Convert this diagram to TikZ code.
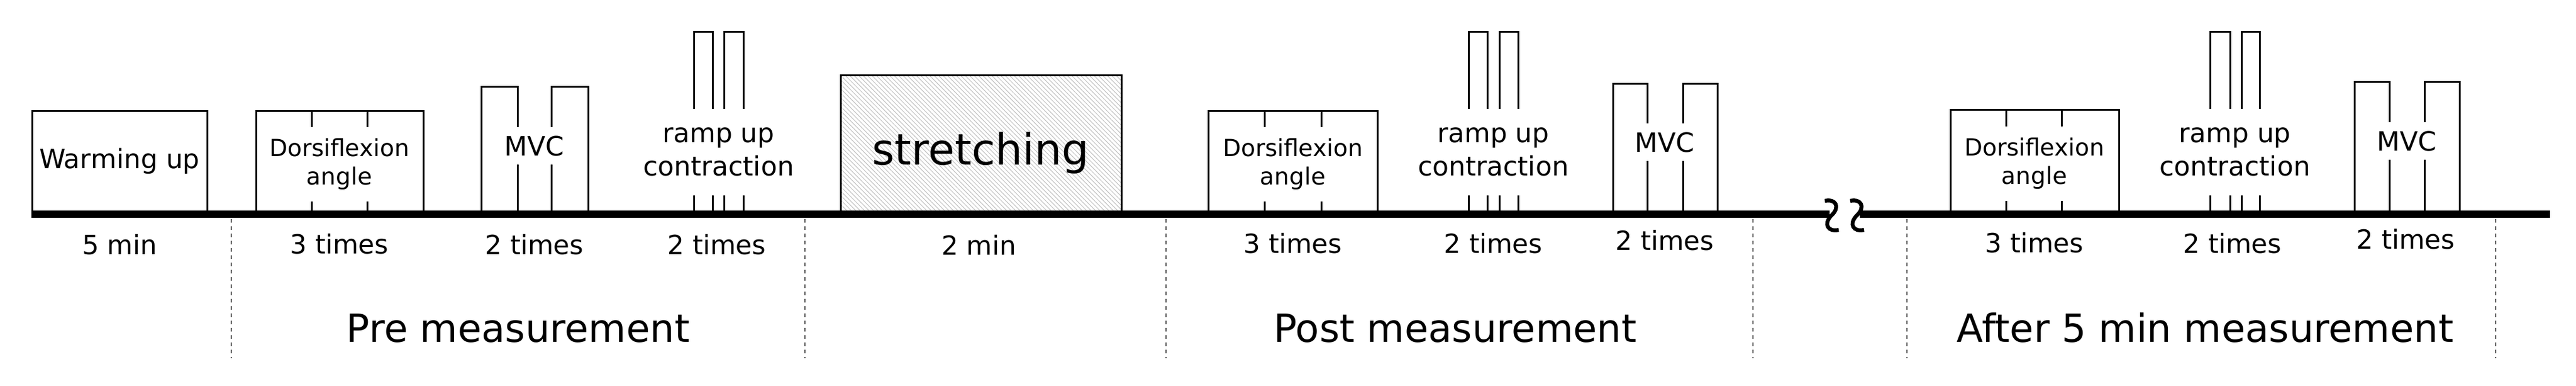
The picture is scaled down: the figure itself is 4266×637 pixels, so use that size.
\documentclass[tikz,border=0pt]{standalone}
\usepackage{fontspec}
\setmainfont{DejaVu Sans}
\usetikzlibrary{patterns.meta}
\begin{document}
    \begin{tikzpicture}[x=0.25pt,y=-0.25pt,
        box/.style={line width=0.75pt},
        axis/.style={line width=3pt},
        brk/.style={line width=1.6pt},
        sep/.style={black!65,line width=0.5pt,dash pattern=on 1.5pt off 1.5pt},
        cover/.style={fill=white,align=center,inner xsep=1pt,inner ysep=0pt},
        small/.style={font=\fontsize{11}{13.6}\selectfont},
        dors/.style={cover,font=\fontsize{9.75}{11.75}\selectfont,minimum height=30.75pt},
        mvc/.style={cover,small,minimum height=15.5pt},
        ramp/.style={cover,small,minimum height=35.75pt},
        count/.style={font=\fontsize{10.9}{13}\selectfont,anchor=base},
        phase/.style={font=\fontsize{16}{19}\selectfont,anchor=base}]
      \useasboundingbox (0,0) rectangle (4266,637);
      \coordinate (t0) at (52,354);
      \coordinate (b1) at (3030,354);
      \coordinate (b2) at (3080,354);
      \coordinate (t1) at (4223,354);
      \draw[box] (53,183) rectangle (343,354);
      \draw[box] (424,183) rectangle (701,354) (516,183) -- (516,354) (608,183) -- (608,354);
      \draw[box] (797,143) rectangle (857,354) (913,143) rectangle (974,354);
      \draw[box] (1149,52) rectangle (1180,354) (1199,52) rectangle (1231,354);
      \draw[box,pattern={Lines[angle=-45,distance=1.3pt,line width=0.25pt]},pattern color=black!25]
        (1392,124) rectangle (1857,354);
      \draw[box] (2001,183) rectangle (2281,354) (2094,183) -- (2094,354) (2188,183) -- (2188,354);
      \draw[box] (2432,52) rectangle (2463,354) (2483,52) rectangle (2514,354);
      \draw[box] (2671,138) rectangle (2728,354) (2787,138) rectangle (2844,354);
      \draw[box] (3230,181) rectangle (3509,354) (3322,181) -- (3322,354) (3414,181) -- (3414,354);
      \draw[box] (3660,52) rectangle (3693,354) (3712,52) rectangle (3742,354);
      \draw[box] (3899,135) rectangle (3957,354) (4015,135) rectangle (4073,354);
      \draw[axis] (t0) -- (b1);
      \draw[axis] (b2) -- (t1);
      \draw[brk] (3022,332) .. controls (3040,328) and (3048,342) .. (3033,356)
        .. controls (3019,370) and (3027,384) .. (3045,380);
      \draw[brk] (3064,332) .. controls (3082,328) and (3090,342) .. (3075,356)
        .. controls (3061,370) and (3069,384) .. (3087,380);
      \foreach \x in {383,1333,1931,2903,3158,4133}
        \draw[sep] (\x,362) -- (\x,592);
      \node[small] (warm) at (198,266) {Warming up};
      \node[dors] (dorsA) at (562,271) {Dorsiflexion\\angle};
      \node[mvc] (mvcA) at (885,241) {MVC};
      \node[ramp] (rampA) at (1190,251) {ramp up\\contraction};
      \node[font=\fontsize{17.8}{21}\selectfont] (stretch) at (1624,253) {stretching};
      \node[dors] (dorsB) at (2141,271) {Dorsiflexion\\angle};
      \node[ramp] (rampB) at (2473,251) {ramp up\\contraction};
      \node[mvc] (mvcB) at (2757,235) {MVC};
      \node[dors] (dorsC) at (3369,270) {Dorsiflexion\\angle};
      \node[ramp] (rampC) at (3701,251) {ramp up\\contraction};
      \node[mvc] (mvcC) at (3986,233) {MVC};
      \node[count] (nwarm) at (198,420) {5 min};
      \node[count] (ndorsA) at (562,419) {3 times};
      \node[count] (nmvcA) at (885,420) {2 times};
      \node[count] (nrampA) at (1187,420) {2 times};
      \node[count] (nstretch) at (1621,421) {2 min};
      \node[count] (ndorsB) at (2141,418) {3 times};
      \node[count] (nrampB) at (2473,418) {2 times};
      \node[count] (nmvcB) at (2757,413) {2 times};
      \node[count] (ndorsC) at (3369,417) {3 times};
      \node[count] (nrampC) at (3697,418) {2 times};
      \node[count] (nmvcC) at (3984,411) {2 times};
      \node[phase] (pre) at (858,565) {Pre measurement};
      \node[phase] (post) at (2410,565) {Post measurement};
      \node[phase] (after) at (3652,565) {After 5 min measurement};
    \end{tikzpicture}
\end{document}
